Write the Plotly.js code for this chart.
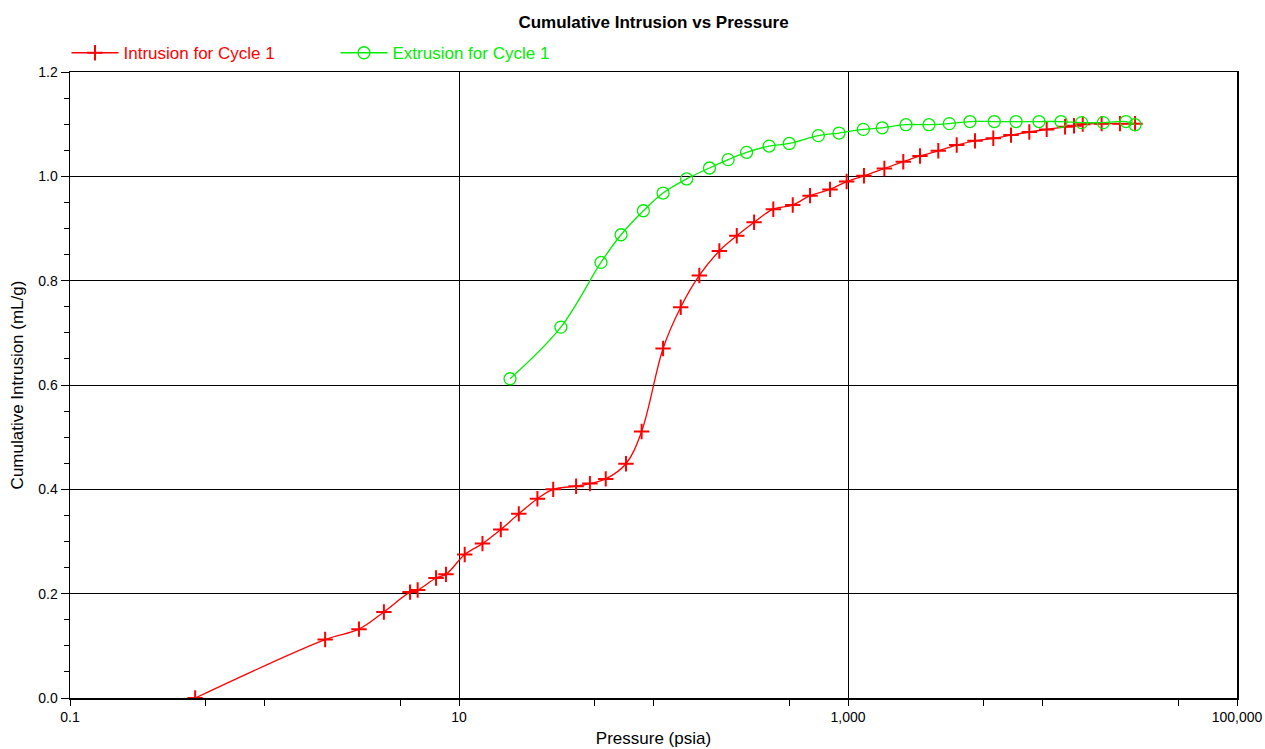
<!DOCTYPE html>
<html><head><meta charset="utf-8">
<script src="https://cdn.plot.ly/plotly-3.0.1.min.js"></script>
<style>html,body{margin:0;padding:0;background:#fff}#chart{width:1265px;height:749px}</style>
</head><body><div id="chart"></div>
<script>
const intrusionPressure = [0.44, 2.05, 3.06, 4.11, 5.6, 6.13, 7.62, 8.57, 10.7, 13.2, 16.4, 20.3, 25.3, 30.5, 40, 47.1, 56.8, 72.2, 86.9, 112, 138, 172, 218, 268, 329, 413, 520, 638, 808, 984, 1208, 1538, 1924, 2345, 2912, 3622, 4497, 5585, 6887, 8553, 10510, 13060, 14520, 16100, 20140, 25020, 29910];
const intrusionVolume = [0.0, 0.112, 0.132, 0.165, 0.203, 0.207, 0.230, 0.237, 0.275, 0.296, 0.323, 0.353, 0.382, 0.400, 0.406, 0.411, 0.420, 0.449, 0.511, 0.670, 0.749, 0.810, 0.857, 0.886, 0.912, 0.937, 0.945, 0.963, 0.975, 0.990, 1.001, 1.015, 1.028, 1.039, 1.049, 1.060, 1.068, 1.073, 1.079, 1.085, 1.090, 1.095, 1.097, 1.100, 1.101, 1.101, 1.101];
const extrusionPressure = [29910, 26870, 20550, 15890, 12450, 9594, 7311, 5653, 4237, 3319, 2608, 1986, 1500, 1199, 899, 704, 499, 393, 301, 242, 194, 148, 112, 88.7, 68.1, 53.7, 33.4, 18.3];
const extrusionVolume = [1.099, 1.105, 1.103, 1.103, 1.105, 1.105, 1.105, 1.105, 1.105, 1.101, 1.099, 1.099, 1.093, 1.090, 1.083, 1.078, 1.063, 1.058, 1.046, 1.032, 1.016, 0.995, 0.968, 0.934, 0.888, 0.835, 0.711, 0.612];
const xTickVals = [0.1, 10, 1000, 100000];
const xTickText = ["0.1", "10", "1,000", "100,000"];
const xMinorVals = [0.5, 1, 5, 50, 100, 500, 5000, 10000, 50000];
const yTickVals = [0, 0.2, 0.4, 0.6, 0.8, 1.0, 1.2];
const yTickText = ["0.0", "0.2", "0.4", "0.6", "0.8", "1.0", "1.2"];

const FONT = "Liberation Sans, Arial, sans-serif";
const traces = [
  {
    x: intrusionPressure, y: intrusionVolume, type: "scatter", mode: "lines+markers",
    name: "<span style='color:#ff0000'>Intrusion for Cycle 1</span>",
    line: {color: "#ff0000", width: 1.3, shape: "spline", smoothing: 1},
    marker: {symbol: "cross-thin-open", size: 11, color: "#ff0000", line: {color: "#ff0000", width: 2}}
  },
  {
    x: extrusionPressure, y: extrusionVolume, type: "scatter", mode: "lines+markers",
    name: "<span style='color:#00ee00'>Extrusion for Cycle 1</span>",
    line: {color: "#00ee00", width: 1.3, shape: "spline", smoothing: 1},
    marker: {symbol: "circle-open", size: 12, color: "#00ee00", line: {color: "#00ee00", width: 1.3}}
  }
];
const layout = {
  width: 1265, height: 749,
  margin: {l: 70, r: 28, t: 72, b: 51},
  paper_bgcolor: "#ffffff", plot_bgcolor: "#ffffff",
  font: {family: FONT, size: 14, color: "#000"},
  title: {text: "<b>Cumulative Intrusion vs Pressure</b>", font: {family: FONT, size: 17, color: "#000"},
          xref: "paper", x: 0.5, xanchor: "center", yref: "container", y: 1 - 22/749, yanchor: "middle"},
  showlegend: true,
  legend: {orientation: "h", x: -0.003, xanchor: "left", y: 1.03, yanchor: "middle", itemwidth: 47,
           font: {family: FONT, size: 17}, bgcolor: "rgba(0,0,0,0)", entrywidth: 207, entrywidthmode: "pixels"},
  xaxis: {
    type: "log", range: [-1, 5], autorange: false,
    tickmode: "array", tickvals: xTickVals, ticktext: xTickText,
    ticks: "outside", ticklen: 6, tickwidth: 1, tickcolor: "#000",
    showgrid: true, gridcolor: "#000", gridwidth: 1,
    showline: true, linecolor: "#000", linewidth: 1.5, mirror: true,
    zeroline: false,
    tickfont: {family: FONT, size: 14, color: "#000"},
    minor: {tickmode: "array", tickvals: xMinorVals, ticks: "outside", ticklen: 6, tickcolor: "#000", showgrid: false},
    title: {text: "Pressure (psia)", font: {family: FONT, size: 17, color: "#000"}, standoff: 8},
    automargin: false
  },
  yaxis: {
    range: [0, 1.2], autorange: false,
    tickmode: "array", tickvals: yTickVals, ticktext: yTickText,
    ticks: "outside", ticklen: 8, tickwidth: 1, tickcolor: "#000",
    showgrid: true, gridcolor: "#000", gridwidth: 1,
    showline: true, linecolor: "#000", linewidth: 1.5, mirror: true,
    zeroline: false,
    tickfont: {family: FONT, size: 14, color: "#000"},
    minor: {dtick: 0.05, ticks: "outside", ticklen: 5, tickcolor: "#000", showgrid: false},
    title: {text: "Cumulative Intrusion (mL/g)", font: {family: FONT, size: 17, color: "#000"}, standoff: 10},
    automargin: false
  }
};
Plotly.newPlot("chart", traces, layout, {displayModeBar: false, staticPlot: true});
</script>
</body></html>
